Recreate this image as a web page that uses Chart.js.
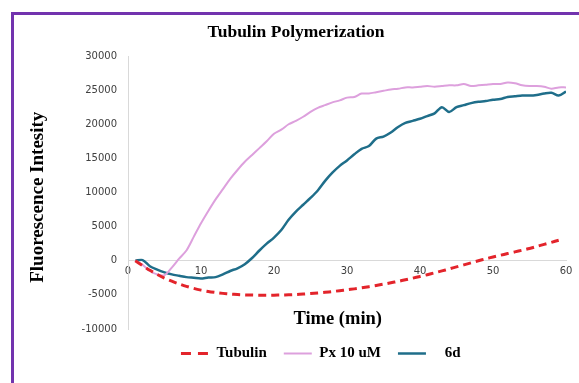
<!DOCTYPE html>
<html>
<head>
<meta charset="utf-8">
<script src="https://cdn.jsdelivr.net/npm/chart.js@4/dist/chart.umd.min.js"></script>
<style>
  html, body { margin: 0; padding: 0; background: #ffffff; }
  #frame { position: absolute; left: 11px; top: 12px; width: 620px; height: 420px;
           border-left: 3px solid #7233AE; border-top: 3px solid #7233AE; box-sizing: border-box; }
  #wrap { position: absolute; left: 0; top: 0; width: 579px; height: 383px; }
</style>
</head>
<body>
<div id="frame"></div>
<div id="wrap"><canvas id="c" width="579" height="383"></canvas></div>
<script>
// ---- data ----
const chartTitle = 'Tubulin Polymerization';
const xTitle = 'Time (min)';
const yTitle = 'Fluorescence Intesity';
const seriesNames = ['Tubulin', 'Px 10 uM', '6d'];

const minutes = [1,2,3,4,5,6,7,8,9,10,11,12,13,14,15,16,17,18,19,20,
                 21,22,23,24,25,26,27,28,29,30,31,32,33,34,35,36,37,38,39,40,
                 41,42,43,44,45,46,47,48,49,50,51,52,53,54,55,56,57,58,59,60];

const tubulin = [0,-700,-1400,-2000,-2550,-3000,-3400,-3750,-4050,-4300,
                 -4500,-4650,-4780,-4880,-4950,-5000,-5030,-5050,-5050,-5040,
                 -5020,-4990,-4940,-4880,-4800,-4720,-4620,-4510,-4390,-4260,
                 -4120,-3970,-3800,-3620,-3430,-3230,-3020,-2790,-2550,-2300,
                 -2040,-1770,-1490,-1200,-900,-600,-300,0,280,550,
                 800,1050,1300,1550,1800,2100,2400,2700,3000,null];

const px10uM = [0,-600,-1500,-2000,-2100,-1000,300,1500,3500,5500,
                7300,9000,10500,12000,13300,14500,15500,16500,17500,18600,
                19200,20000,20500,21100,21800,22400,22800,23200,23500,23900,
                24000,24500,24500,24700,24900,25100,25200,25400,25400,25500,
                25600,25500,25600,25700,25700,25900,25600,25700,25800,25900,
                25900,26100,26000,25700,25600,25600,25500,25200,25400,25400];

const d6 = [0,100,-800,-1300,-1700,-2000,-2200,-2400,-2500,-2600,
            -2450,-2400,-2000,-1500,-1100,-500,400,1500,2500,3400,
            4500,6000,7200,8200,9200,10300,11700,12900,13900,14700,
            15600,16400,16800,17900,18200,18800,19600,20200,20500,20800,
            21200,21600,22500,21800,22500,22800,23100,23300,23400,23600,
            23700,24000,24100,24200,24200,24300,24500,24600,24200,24800];

const xTicks = [0, 10, 20, 30, 40, 50, 60];
const yTicks = [-10000, -5000, 0, 5000, 10000, 15000, 20000, 25000, 30000];

// ---- chart ----
const serif = "'Liberation Serif', 'Times New Roman', serif";
const sans = "'DejaVu Sans', Verdana, sans-serif";

new Chart(document.getElementById('c'), {
  type: 'line',
  data: {
    labels: minutes,
    datasets: [
      { label: seriesNames[0], data: tubulin, borderColor: '#E3242B', backgroundColor: '#E3242B',
        borderWidth: 3, borderDash: [8, 5], pointRadius: 0, tension: 0.3, spanGaps: false },
      { label: seriesNames[1], data: px10uM, borderColor: '#DDA0DD', backgroundColor: '#DDA0DD',
        borderWidth: 2, pointRadius: 0, tension: 0.3 },
      { label: seriesNames[2], data: d6, borderColor: '#1F6E8A', backgroundColor: '#1F6E8A',
        borderWidth: 2.5, pointRadius: 0, tension: 0.3 }
    ]
  },
  options: {
    responsive: false,
    animation: false,
    devicePixelRatio: 1,
    layout: { padding: { left: 13, top: 13, right: 0, bottom: 12 } },
    plugins: {
      title: {
        display: true, text: chartTitle, color: '#000000',
        font: { family: serif, size: 17.5, weight: 'bold' },
        padding: { top: 8.5, bottom: 13.5 }
      },
      legend: {
        position: 'bottom', fullSize: false,
        labels: {
          usePointStyle: true, pointStyle: 'line', pointStyleWidth: 28,
          color: '#000000', padding: 17,
          font: { family: serif, size: 15, weight: 'bold' },
          generateLabels: (chart) => {
            const items = Chart.defaults.plugins.legend.labels.generateLabels(chart);
            items.forEach((it, i) => {
              const ds = chart.data.datasets[i];
              it.pointStyle = 'line';
              it.lineWidth = ds.borderWidth;
              it.strokeStyle = ds.borderColor;
              it.lineDash = ds.borderDash ? [10, 7] : [];
              it.lineCap = 'butt';
              if (i === 2) it.text = '   ' + seriesNames[2] + '              ';
            });
            return items;
          }
        }
      },
      tooltip: { enabled: false }
    },
    scales: {
      x: {
        type: 'linear', position: { y: 0 }, min: 0, max: 60,
        afterBuildTicks: (s) => { s.ticks = xTicks.map(v => ({ value: v })); },
        afterFit: (s) => { s.paddingRight = 13; },
        grid: { display: false, drawTicks: false },
        border: { display: true, color: '#D9D9D9', width: 1 },
        ticks: { color: '#404040', font: { family: sans, size: 10 }, padding: 5, maxRotation: 0 },
        title: { display: true, text: xTitle + '    ', color: '#000000',
                 font: { family: serif, size: 18.5, weight: 'bold' }, padding: { top: 25, bottom: 0 } }
      },
      y: {
        type: 'linear', position: 'left', min: -10000, max: 30000,
        afterBuildTicks: (s) => { s.ticks = yTicks.map(v => ({ value: v })); },
        afterFit: (s) => { s.width = 115; },
        grid: { display: false, drawTicks: false },
        border: { display: true, color: '#D9D9D9', width: 1 },
        ticks: { color: '#404040', font: { family: sans, size: 10 }, padding: 11,
                 callback: (v) => String(v) },
        title: { display: true, text: yTitle + '  ', color: '#000000',
                 font: { family: serif, size: 19, weight: 'bold' }, padding: { top: 13.5, bottom: 0 } }
      }
    }
  }
});
</script>
</body>
</html>
